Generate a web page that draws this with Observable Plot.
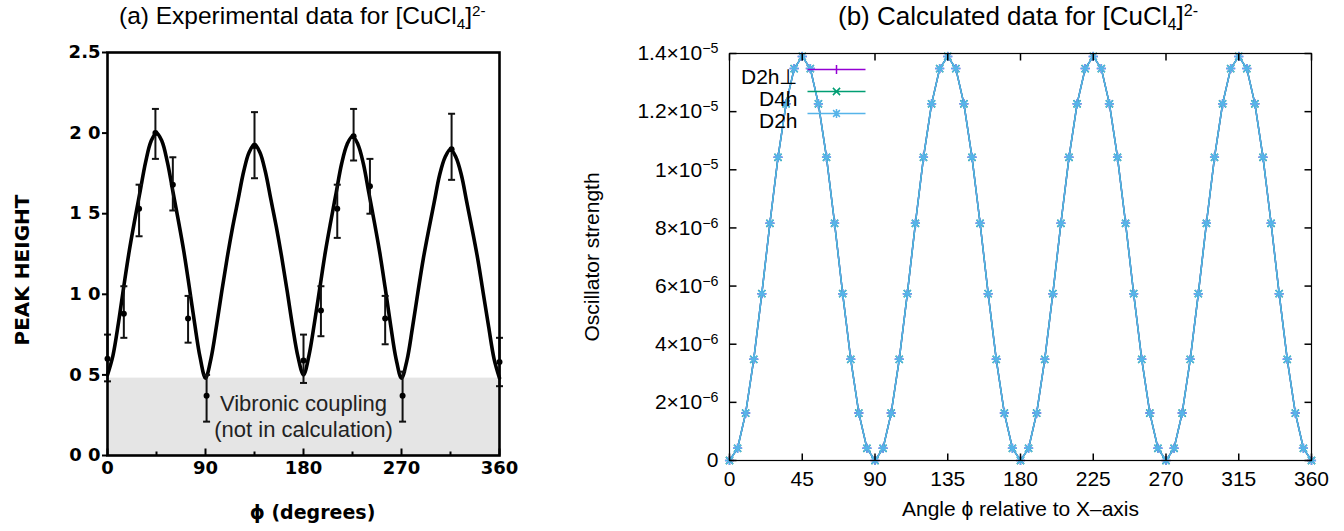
<!DOCTYPE html>
<html><head><meta charset="utf-8">
<script src="https://cdn.jsdelivr.net/npm/d3@7"></script>
<script src="https://cdn.jsdelivr.net/npm/@observablehq/plot@0.6"></script>
<style>
html,body{margin:0;padding:0;background:#fff;}
#wrap{position:relative;width:1344px;height:531px;overflow:hidden;font-family:"Liberation Sans",Arial,sans-serif;}
.title{position:absolute;white-space:nowrap;color:#000;line-height:1;}
.title sub,.title sup{font-size:0.62em;line-height:0;position:relative;vertical-align:baseline;}
.title sub{top:0.3em;}
.title sup{top:-0.55em;}
#panelA{position:absolute;left:0;top:0;}
#panelB{position:absolute;left:560px;top:0;}
#titleA{left:119px;top:4px;font-size:24.5px;}
#titleB{left:838px;top:3px;font-size:26px;}
</style></head><body>
<div id="wrap">
<div id="panelA"></div><div id="panelB"></div>
<div class="title" id="titleA">(a) Experimental data for [CuCl<sub>4</sub>]<sup>2-</sup></div>
<div class="title" id="titleB">(b) Calculated data for [CuCl<sub>4</sub>]<sup>2-</sup></div>
</div>
<script>
// ---------- shared angle grid (degrees) ----------
const angles = [0,5,10,15,20,25,30,35,40,45,50,55,60,65,70,75,80,85,90,
  95,100,105,110,115,120,125,130,135,140,145,150,155,160,165,170,175,180,
  185,190,195,200,205,210,215,220,225,230,235,240,245,250,255,260,265,270,
  275,280,285,290,295,300,305,310,315,320,325,330,335,340,345,350,355,360];

// ---------- panel (a): experimental ----------
const fitCurveA = [0.50,0.62,0.82,1.05,1.27,1.46,1.64,1.82,1.95,2.00,
  1.95,1.82,1.64,1.46,1.27,1.05,0.82,0.61,0.48,
  0.60,0.80,1.02,1.23,1.42,1.59,1.76,1.88,1.93,
  1.88,1.76,1.59,1.42,1.23,1.02,0.80,0.61,0.50,
  0.62,0.82,1.04,1.26,1.45,1.63,1.81,1.93,1.98,
  1.93,1.81,1.63,1.45,1.26,1.04,0.81,0.60,0.48,
  0.59,0.79,1.01,1.22,1.40,1.57,1.74,1.85,1.90,
  1.85,1.74,1.57,1.40,1.22,1.01,0.80,0.60,0.48];
const expPhi  = [0,   15,  29,  44,  60,  74,  91,  135, 180, 196, 211, 226, 241, 255, 271, 316, 360];
const expPeak = [0.60,0.88,1.53,2.00,1.68,0.85,0.37,1.92,0.59,0.90,1.53,1.98,1.67,0.85,0.37,1.90,0.58];
const expLo   = [0.46,0.73,1.36,1.84,1.52,0.70,0.21,1.72,0.45,0.74,1.35,1.83,1.50,0.69,0.21,1.71,0.43];
const expHi   = [0.75,1.05,1.68,2.15,1.85,0.99,0.50,2.13,0.75,1.05,1.68,2.15,1.84,0.99,0.52,2.12,0.73];
const bandLo = 0, bandHi = 0.48;
const bandText = "Vibronic coupling\n(not in calculation)";
const xTicksA = [0,90,180,270,360];
const xMinorA = [45,135,225,315];
const yTicksA = [0,0.5,1,1.5,2,2.5];
const yLabelsA = ["0 0","0 5","1 0","1 5","2 0","2.5"];
const yTitleA = "PEAK HEIGHT";
const xTitleA = "\u03D5 (degrees)";

// ---------- panel (b): calculated ----------
const oscD2h = [0,4.2e-7,1.63e-6,3.48e-6,5.74e-6,8.16e-6,1.043e-5,1.227e-5,1.348e-5,1.39e-5,
  1.348e-5,1.227e-5,1.043e-5,8.16e-6,5.74e-6,3.48e-6,1.63e-6,4.2e-7,0,
  4.2e-7,1.63e-6,3.48e-6,5.74e-6,8.16e-6,1.043e-5,1.227e-5,1.348e-5,1.39e-5,
  1.348e-5,1.227e-5,1.043e-5,8.16e-6,5.74e-6,3.48e-6,1.63e-6,4.2e-7,0,
  4.2e-7,1.63e-6,3.48e-6,5.74e-6,8.16e-6,1.043e-5,1.227e-5,1.348e-5,1.39e-5,
  1.348e-5,1.227e-5,1.043e-5,8.16e-6,5.74e-6,3.48e-6,1.63e-6,4.2e-7,0,
  4.2e-7,1.63e-6,3.48e-6,5.74e-6,8.16e-6,1.043e-5,1.227e-5,1.348e-5,1.39e-5,
  1.348e-5,1.227e-5,1.043e-5,8.16e-6,5.74e-6,3.48e-6,1.63e-6,4.2e-7,0];
// D2h⊥ and D4h coincide with D2h (hidden beneath it in the original)
const oscD2hPerp = oscD2h.slice();
const oscD4h = oscD2h.slice();
const seriesNames = ["D2h\u22A5","D4h","D2h"];
const seriesColors = ["#9400d3","#009e73","#56b4e9"];
const xTicksB = [0,45,90,135,180,225,270,315,360];
const yTicksB = [0,2e-6,4e-6,6e-6,8e-6,1e-5,1.2e-5,1.4e-5];
const yLabelsB = ["0","2\u00D710^\u22126","4\u00D710^\u22126","6\u00D710^\u22126","8\u00D710^\u22126","1\u00D710^\u22125","1.2\u00D710^\u22125","1.4\u00D710^\u22125"];
const yTitleB = "Oscillator strength";
const xTitleB = "Angle \u03D5 relative to X\u2013axis";

// ---------- tables ----------
const curveA = angles.map((a,i)=>({phi:a, v:fitCurveA[i]}));
const pointsA = expPhi.map((p,i)=>({phi:p, v:expPeak[i], lo:expLo[i], hi:expHi[i]}));
const bandA = [{x1:0, x2:360, y1:bandLo, y2:bandHi}];
const calc = angles.map((a,i)=>({phi:a, perp:oscD2hPerp[i], d4h:oscD4h[i], d2h:oscD2h[i]}));

// ---------- symbols ----------
const sym = (f)=>({draw(ctx){ f(ctx); }});
const tickUp = n => sym(c=>{c.moveTo(0,0);c.lineTo(0,-n);});
const tickDown = n => sym(c=>{c.moveTo(0,0);c.lineTo(0,n);});
const tickRight = n => sym(c=>{c.moveTo(0,0);c.lineTo(n,0);});
const tickLeft = n => sym(c=>{c.moveTo(0,0);c.lineTo(-n,0);});
const capSym = sym(c=>{c.moveTo(-3.5,0);c.lineTo(3.5,0);});
function plusP(c,r){c.moveTo(-r,0);c.lineTo(r,0);c.moveTo(0,-r);c.lineTo(0,r);}
function timesP(c,r){c.moveTo(-r,-r);c.lineTo(r,r);c.moveTo(-r,r);c.lineTo(r,-r);}
const markerFns = [
  c=>plusP(c,4.5),
  c=>timesP(c,3.6),
  c=>{plusP(c,4.6);timesP(c,3.4);}
];

// ---------- panel (a) ----------
const A = Plot.plot({
  width:560, height:531,
  marginLeft:107, marginRight:61, marginTop:52, marginBottom:76,
  x:{domain:[0,360]}, y:{domain:[0,2.5]},
  style:{fontFamily:"DejaVu Sans", fontWeight:"bold", fontSize:"18px", color:"#000", background:"transparent"},
  marks:[
    Plot.rect(bandA,{x1:"x1",x2:"x2",y1:"y1",y2:"y2",fill:"#e5e5e5"}),
    Plot.text([bandText],{x:()=>180,y:()=>0.245,text:d=>d,fontFamily:"Liberation Sans",fontWeight:"normal",fontSize:22,lineHeight:1.15,fill:"#222"}),
    Plot.line(curveA,{x:"phi",y:"v",stroke:"#000",strokeWidth:3.6,curve:"catmull-rom"}),
    Plot.ruleX(pointsA,{x:"phi",y1:"lo",y2:"hi",stroke:"#111",strokeWidth:2}),
    Plot.dot(pointsA,{x:"phi",y:"lo",symbol:capSym,fill:"none",stroke:"#111",strokeWidth:2}),
    Plot.dot(pointsA,{x:"phi",y:"hi",symbol:capSym,fill:"none",stroke:"#111",strokeWidth:2}),
    Plot.dot(pointsA,{x:"phi",y:"v",r:3,fill:"#000"}),
    Plot.frame({stroke:"#000",strokeWidth:2.6}),
    Plot.dot(xTicksA,{x:d=>d,frameAnchor:"bottom",symbol:tickUp(7),fill:"none",stroke:"#000",strokeWidth:2}),
    Plot.dot(xMinorA,{x:d=>d,frameAnchor:"bottom",symbol:tickUp(4),fill:"none",stroke:"#000",strokeWidth:2}),
    Plot.axisY(yTicksA,{tickSize:5,tickPadding:2,strokeWidth:2,tickFormat:d=>yLabelsA[yTicksA.indexOf(d)],label:null,fontSize:18,fontWeight:"bold"}),
    Plot.axisX(xTicksA,{tickSize:0,tickPadding:6,label:null,fontSize:18,fontWeight:"bold"}),
    Plot.text([yTitleA],{text:d=>d,frameAnchor:"left",textAnchor:"middle",dx:-85,dy:16,rotate:-90,fontSize:20,fontWeight:"bold"}),
    Plot.text([xTitleA],{text:d=>d,frameAnchor:"bottom",textAnchor:"middle",dx:9,dy:63,fontSize:19,fontWeight:"bold"})
  ]
});
document.getElementById("panelA").appendChild(A);

// ---------- panel (b) ----------
const legendMarks = [];
seriesNames.forEach((name,i)=>{
  const dy = [16,38,60][i];
  legendMarks.push(Plot.text([name],{text:d=>d,frameAnchor:"top-left",dx:68,dy:dy,textAnchor:"end",fontSize:21,fill:"#000"}));
  legendMarks.push(Plot.dot([name],{frameAnchor:"top-left",dx:107,dy:dy,fill:"none",stroke:seriesColors[i],strokeWidth:1.5,
    symbol:sym(c=>{c.moveTo(-29,0);c.lineTo(29,0);markerFns[i](c);})}));
});
const B = Plot.plot({
  width:784, height:531,
  marginLeft:169, marginRight:33, marginTop:53, marginBottom:71,
  x:{domain:[0,360]}, y:{domain:[0,1.4e-5]},
  style:{fontFamily:"Liberation Sans", fontSize:"20px", color:"#000", background:"transparent"},
  marks:[
    Plot.line(calc,{x:"phi",y:"perp",stroke:seriesColors[0],strokeWidth:1.5}),
    Plot.dot(calc,{x:"phi",y:"perp",symbol:sym(markerFns[0]),fill:"none",stroke:seriesColors[0],strokeWidth:1.5}),
    Plot.line(calc,{x:"phi",y:"d4h",stroke:seriesColors[1],strokeWidth:1.5}),
    Plot.dot(calc,{x:"phi",y:"d4h",symbol:sym(markerFns[1]),fill:"none",stroke:seriesColors[1],strokeWidth:1.5}),
    Plot.line(calc,{x:"phi",y:"d2h",stroke:seriesColors[2],strokeWidth:1.5}),
    Plot.dot(calc,{x:"phi",y:"d2h",symbol:sym(markerFns[2]),fill:"none",stroke:seriesColors[2],strokeWidth:1.5}),
    Plot.frame({stroke:"#000",strokeWidth:1.2}),
    Plot.dot(xTicksB,{x:d=>d,frameAnchor:"bottom",symbol:tickUp(7),fill:"none",stroke:"#000"}),
    Plot.dot(xTicksB,{x:d=>d,frameAnchor:"top",symbol:tickDown(7),fill:"none",stroke:"#000"}),
    Plot.dot(yTicksB,{y:d=>d,frameAnchor:"left",symbol:tickRight(7),fill:"none",stroke:"#000"}),
    Plot.dot(yTicksB,{y:d=>d,frameAnchor:"right",symbol:tickLeft(7),fill:"none",stroke:"#000"}),
    ...legendMarks,
    Plot.axisX(xTicksB,{tickSize:0,tickPadding:11,label:null,fontSize:21}),
    Plot.axisY(yTicksB,{tickSize:0,tickPadding:11,label:null,fontSize:21,tickFormat:d=>yLabelsB[yTicksB.indexOf(d)]}),
    Plot.text([yTitleB],{text:d=>d,frameAnchor:"left",textAnchor:"middle",dx:-137,dy:0,rotate:-90,fontSize:21}),
    Plot.text([xTitleB],{text:d=>d,frameAnchor:"bottom",textAnchor:"middle",dx:0,dy:55,fontSize:21})
  ]
});
document.getElementById("panelB").appendChild(B);

// superscript exponents in y tick labels of (b)
d3.select(B).selectAll('g[aria-label="y-axis tick label"] text').each(function(){
  const t = this.textContent;
  const parts = t.split("^");
  if (parts.length === 2) {
    const s = d3.select(this);
    s.text(null);
    s.append("tspan").text(parts[0]);
    s.append("tspan").attr("dy","-0.5em").attr("font-size","0.68em").text(parts[1]);
  }
});
</script>
</body></html>
